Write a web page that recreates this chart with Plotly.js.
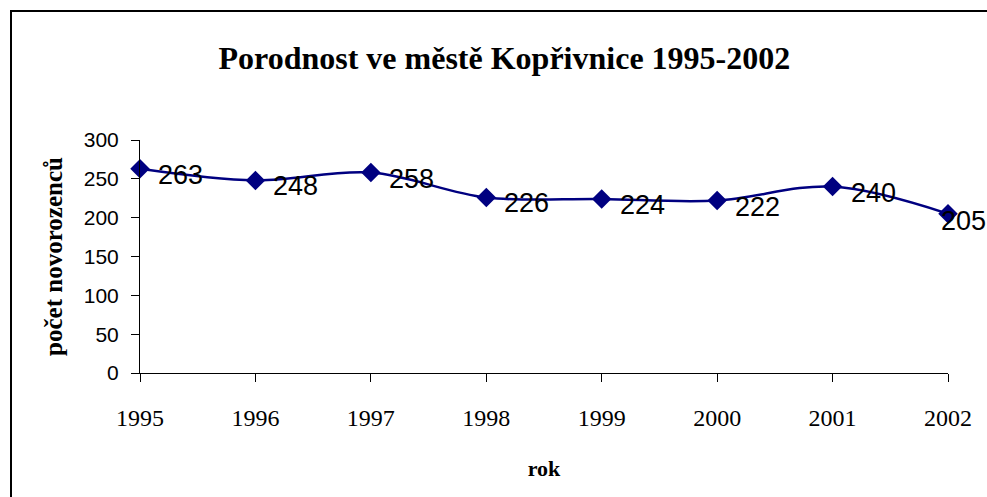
<!DOCTYPE html>
<html>
<head>
<meta charset="utf-8">
<script src="https://cdn.plot.ly/plotly-3.0.1.min.js"></script>
<style>html,body{margin:0;padding:0;background:#fff;}#chart{width:987px;height:497px;}</style>
</head>
<body>
<div id="chart"></div>
<script>
var years = [1995, 1996, 1997, 1998, 1999, 2000, 2001, 2002];
var births = [263, 248, 258, 226, 224, 222, 240, 205];
var yTicks = [0, 50, 100, 150, 200, 250, 300];

var W = 987, H = 497;
var mL = 140, mR = 39, mT = 140, mB = 124;
var pw = W - mL - mR, ph = H - mT - mB;
function px2x(p){ return (p - mL) / pw; }
function py2y(p){ return (H - mB - p) / ph; }

var trace = {
  x: years, y: births, type: 'scatter', mode: 'lines+markers',
  line: {color: '#000080', width: 2.5, shape: 'spline', smoothing: 1},
  marker: {symbol: 'diamond', size: 15, color: '#000080'},
  cliponaxis: false, hoverinfo: 'skip'
};

var annotations = years.map(function(yr, i){
  var last = i === years.length - 1;
  return {x: yr, y: births[i], xref: 'x', yref: 'y', text: String(births[i]),
    showarrow: false, xanchor: 'left', yanchor: 'middle', xshift: last ? -9 : 16, yshift: last ? -7 : -6,
    font: {family: 'Liberation Sans, Arial, sans-serif', size: 27, color: '#000'}};
});

var layout = {
  width: W, height: H,
  margin: {l: mL, r: mR, t: mT, b: mB, pad: 0},
  paper_bgcolor: '#fff', plot_bgcolor: '#fff',
  showlegend: false,
  title: {text: '<b>Porodnost ve městě Kopřivnice 1995-2002</b>',
    font: {family: 'Liberation Serif, Times New Roman, serif', size: 32, color: '#000'},
    x: 0.511, xref: 'container', xanchor: 'center', y: 1 - 58/H, yref: 'container', yanchor: 'middle'},
  xaxis: {
    range: [1995, 2002], tickvals: years, ticktext: years.map(String),
    showgrid: false, zeroline: false, showline: true, linecolor: '#000', linewidth: 1,
    ticks: 'outside', ticklen: 8, tickcolor: '#000', ticklabelstandoff: 15,
    tickfont: {family: 'Liberation Serif, Times New Roman, serif', size: 24, color: '#000'},
    title: {text: '<b>rok</b>', font: {family: 'Liberation Serif, Times New Roman, serif', size: 22, color: '#000'}, standoff: 30},
    fixedrange: true
  },
  yaxis: {
    range: [0, 300], tickvals: yTicks, ticktext: yTicks.map(String),
    showgrid: false, zeroline: false, showline: true, linecolor: '#000', linewidth: 1,
    ticks: 'outside', ticklen: 8, tickcolor: '#000', ticklabelstandoff: 8,
    tickfont: {family: 'Liberation Sans, Arial, sans-serif', size: 21, color: '#000'},
    title: {text: '<b>počet novorozenců</b>', font: {family: 'Liberation Serif, Times New Roman, serif', size: 25, color: '#000'}, standoff: 14},
    fixedrange: true
  },
  annotations: annotations,
  shapes: [
    {type: 'path', xref: 'paper', yref: 'paper',
     path: 'M ' + px2x(11) + ' ' + py2y(520) + ' L ' + px2x(11) + ' ' + py2y(11) + ' L ' + px2x(1010) + ' ' + py2y(11),
     line: {color: '#000', width: 2}}
  ]
};

Plotly.newPlot('chart', [trace], layout, {displayModeBar: false, staticPlot: true});
</script>
</body>
</html>
